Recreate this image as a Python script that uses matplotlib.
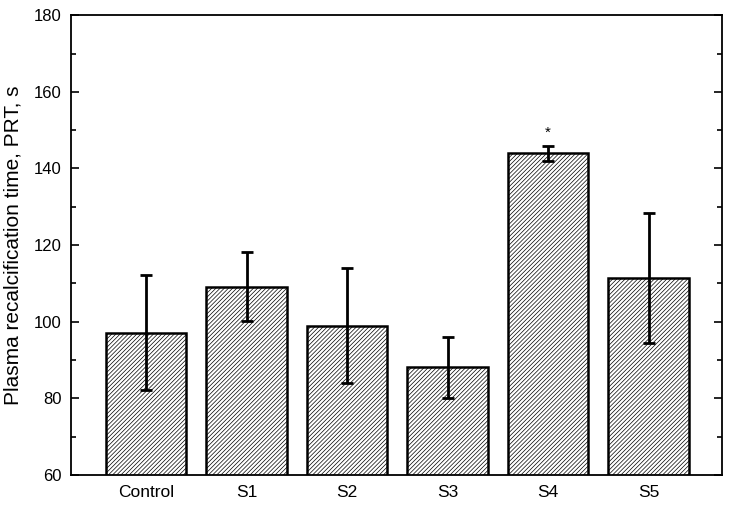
import matplotlib.pyplot as plt
from matplotlib.ticker import MultipleLocator

plt.rcParams['font.family'] = ['Liberation Sans', 'DejaVu Sans']
plt.rcParams['hatch.linewidth'] = 0.5

groups = ['Control', 'S1', 'S2', 'S3', 'S4', 'S5']
prt = [97.2, 109.2, 99.0, 88.1, 144.0, 111.5]
err = [15.0, 9.0, 15.0, 8.0, 2.0, 17.0]
marks = ['', '', '', '', '*', '']

fig = plt.figure(figsize=(7.33, 5.07), dpi=100)
ax = fig.add_axes([0.097, 0.063, 0.888, 0.907])

x = range(len(groups))
ax.bar(x, prt, width=0.8, color='white', edgecolor='black', linewidth=1.8,
       hatch='////////', zorder=2)
ax.errorbar(x, prt, yerr=err, fmt='none', ecolor='black', elinewidth=2,
            capsize=4, capthick=2, zorder=3)
for i, m in enumerate(marks):
    if m:
        ax.text(i, prt[i] + err[i] + 1.5, m, ha='center', va='bottom', fontsize=11)

ax.set_ylim(60, 180)
ax.set_xlim(-0.745, 5.73)
ax.set_xticks(list(x))
ax.set_xticklabels(groups, fontsize=12.5)
ax.yaxis.set_major_locator(MultipleLocator(20))
ax.yaxis.set_minor_locator(MultipleLocator(10))
ax.tick_params(axis='y', which='both', direction='in', right=True, labelsize=12, width=1.2, pad=7)
ax.tick_params(axis='y', which='major', length=6)
ax.tick_params(axis='y', which='minor', length=3.5)
ax.tick_params(axis='x', length=0, pad=7)
for s in ax.spines.values():
    s.set_linewidth(1.3)
ax.set_ylabel('Plasma recalcification time, PRT, s', fontsize=15, labelpad=8)

fig.savefig('out.png', dpi=100)
